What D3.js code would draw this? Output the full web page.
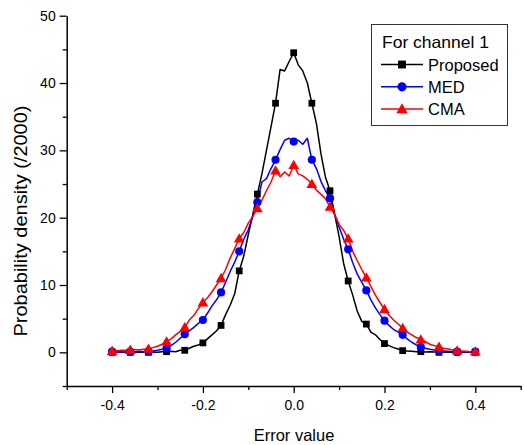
<!DOCTYPE html>
<html><head><meta charset="utf-8">
<script src="https://cdn.jsdelivr.net/npm/d3@7"></script>
<style>body{margin:0;background:#fff;} svg{display:block;font-family:"Liberation Sans",Arial,sans-serif;}</style>
</head><body>
<script>
const xValues = d3.range(81).map(i => +(-0.40 + i * 0.01).toFixed(2));
const proposed = [
 0,0,0,0,0,0,0,0,0,0.05,
 0,0.1,0.1,0.15,0.1,0.3,0.3,0.6,0.9,1.1,
 1.4,2.0,2.6,3.2,4.0,5.6,7.0,8.7,12.1,14.3,
 17.5,20.5,23.5,26.5,30.0,33.5,37.0,42.0,41.8,43.2,
 44.5,
 42.7,41.8,40.0,37.0,34.0,29.5,26.0,24.0,20.6,17.2,
 13.2,10.6,8.5,6.1,4.6,4.2,3.0,2.6,1.9,1.3,
 1.0,0.7,0.5,0.25,0.2,0.15,0.1,0.1,0.05,0.1,
 0.05,0,0.05,0,0,0,0,0,0,0
];
const med = [
 0.1,0.05,0.1,0.05,0.1,0.1,0.15,0.1,0.15,0.2,
 0.3,0.45,0.6,1.0,1.5,2.1,2.7,3.2,3.7,4.3,
 4.8,5.8,6.9,7.8,8.9,10.4,12.0,13.4,15.0,16.8,
 18.2,20.2,22.3,25.3,25.8,27.3,28.6,30.1,31.5,31.8,
 31.3,
 31.5,30.9,31.8,28.6,27.3,25.4,24.0,22.9,20.5,18.6,
 16.8,15.3,13.3,11.6,10.4,9.2,7.8,6.6,5.6,4.7,
 4.0,3.4,3.0,2.6,2.0,1.5,1.1,0.8,0.6,0.45,
 0.35,0.25,0.2,0.15,0.1,0.1,0.1,0.05,0.1,0.1
];
const cma = [
 0.2,0.25,0.3,0.3,0.35,0.4,0.4,0.45,0.5,0.7,
 0.9,1.2,1.6,2.0,2.6,3.1,3.7,4.8,5.5,6.5,
 7.4,8.1,9.0,10.0,11.0,12.3,14.0,15.4,16.9,17.8,
 19.2,20.2,21.4,22.6,24.0,25.3,27.0,26.1,26.8,26.2,
 27.8,
 26.5,26.2,25.7,25.0,24.1,23.5,22.8,21.6,20.5,19.0,
 18.1,16.9,15.0,13.6,12.3,11.1,9.8,8.5,7.4,6.4,
 5.5,4.8,4.2,3.6,3.0,2.6,2.2,1.9,1.6,1.2,
 1.0,0.8,0.6,0.5,0.35,0.25,0.2,0.15,0.1,0.1
];
const seriesNames = ["Proposed", "MED", "CMA"];
const seriesColors = ["#000000", "#0000ff", "#ff0000"];
const seriesSymbols = [d3.symbolSquare, d3.symbolCircle, d3.symbolTriangle];
const xTicks = [-0.5,-0.4,-0.3,-0.2,-0.1,0,0.1,0.2,0.3,0.4,0.5];
const xTickLabels = ["-0.4","-0.2","0.0","0.2","0.4"];
const yTicks = [-5,0,5,10,15,20,25,30,35,40,45,50];
const yTickLabels = ["0","10","20","30","40","50"];
const legendTitle = "For channel 1";

const W = 524, H = 445;
const markerSizes = [46, 52, 50];
const legendMarkerSizes = [62, 66, 56];
const svg = d3.select("body").append("svg").attr("width", W).attr("height", H);
const x = d3.scaleLinear().domain([-0.5, 0.5]).range([66.7, 520.7]);
const y = d3.scaleLinear().domain([-5, 50]).range([386, 15.7]);
const fmtX = d => (d < 0 ? "-" : "") + Math.abs(d).toFixed(1);

const allSeries = [proposed, med, cma];
const line = d3.line().x((d, i) => x(xValues[i])).y(d => y(d));

allSeries.forEach((s, k) => {
  svg.append("path").datum(s).attr("d", line)
    .attr("fill", "none").attr("stroke", seriesColors[k]).attr("stroke-width", 1.5)
    .attr("stroke-linejoin", "round");
});
allSeries.forEach((s, k) => {
  svg.append("g").selectAll("path").data(s.map((v, i) => [xValues[i], v]).filter((d, i) => i % 4 === 0))
    .join("path")
    .attr("transform", d => `translate(${x(d[0])},${y(d[1]) + (k === 2 ? 0.8 : 0)})`)
    .attr("d", d3.symbol().type(seriesSymbols[k]).size(markerSizes[k]))
    .attr("fill", seriesColors[k]);
});

// X axis
const xAxis = d3.axisBottom(x).tickValues(xTicks)
  .tickSize(0).tickFormat(d => xTickLabels.includes(fmtX(d)) ? fmtX(d) : "");
const gx = svg.append("g").attr("transform", `translate(0,${y(-5)})`).call(xAxis);
gx.select(".domain").attr("stroke", "#000").attr("stroke-width", 1.5);
gx.selectAll(".tick line").attr("y2", d => xTickLabels.includes(fmtX(d)) ? 7 : 4)
  .attr("stroke", "#000").attr("stroke-width", 1.3);
gx.selectAll(".tick text").attr("y", 14).attr("font-size", 14).attr("fill", "#000")
  .attr("font-family", "Liberation Sans, Arial, sans-serif");

// Y axis
const yAxis = d3.axisLeft(y).tickValues(yTicks).tickSize(0)
  .tickFormat(d => yTickLabels.includes(String(d)) ? String(d) : "");
const gy = svg.append("g").attr("transform", `translate(${x(-0.5)},0)`).call(yAxis);
gy.select(".domain").attr("stroke", "#000").attr("stroke-width", 1.5);
gy.selectAll(".tick line").attr("x2", d => yTickLabels.includes(String(d)) ? -7 : -4)
  .attr("stroke", "#000").attr("stroke-width", 1.3);
gy.selectAll(".tick text").attr("x", -11).attr("font-size", 14).attr("fill", "#000")
  .attr("font-family", "Liberation Sans, Arial, sans-serif");

// Axis titles
svg.append("text").attr("x", 294).attr("y", 441).attr("text-anchor", "middle")
  .attr("font-size", 16.5).text("Error value");
svg.append("text").attr("transform", "translate(26.5,221) rotate(-90)").attr("text-anchor", "middle")
  .attr("font-size", 18.5).attr("textLength", 231).attr("lengthAdjust", "spacingAndGlyphs")
  .text("Probability density (/2000)");

// Legend
const lg = svg.append("g");
lg.append("rect").attr("x", 371.5).attr("y", 24.5).attr("width", 136).attr("height", 101)
  .attr("fill", "#fff").attr("stroke", "#333").attr("stroke-width", 1);
lg.append("text").attr("x", 382).attr("y", 47.5).attr("font-size", 16.5)
  .attr("textLength", 107).attr("lengthAdjust", "spacingAndGlyphs").text(legendTitle);
seriesNames.forEach((n, k) => {
  const cy = 64.5 + k * 22.3;
  lg.append("line").attr("x1", 381).attr("x2", 423).attr("y1", cy).attr("y2", cy)
    .attr("stroke", seriesColors[k]).attr("stroke-width", 1.5);
  lg.append("path").attr("transform", `translate(402,${cy + (k === 2 ? 0.8 : 0)})`)
    .attr("d", d3.symbol().type(seriesSymbols[k]).size(legendMarkerSizes[k])).attr("fill", seriesColors[k]);
  lg.append("text").attr("x", 428).attr("y", cy + 6).attr("font-size", 16.5).text(n);
});
</script>
</body></html>
